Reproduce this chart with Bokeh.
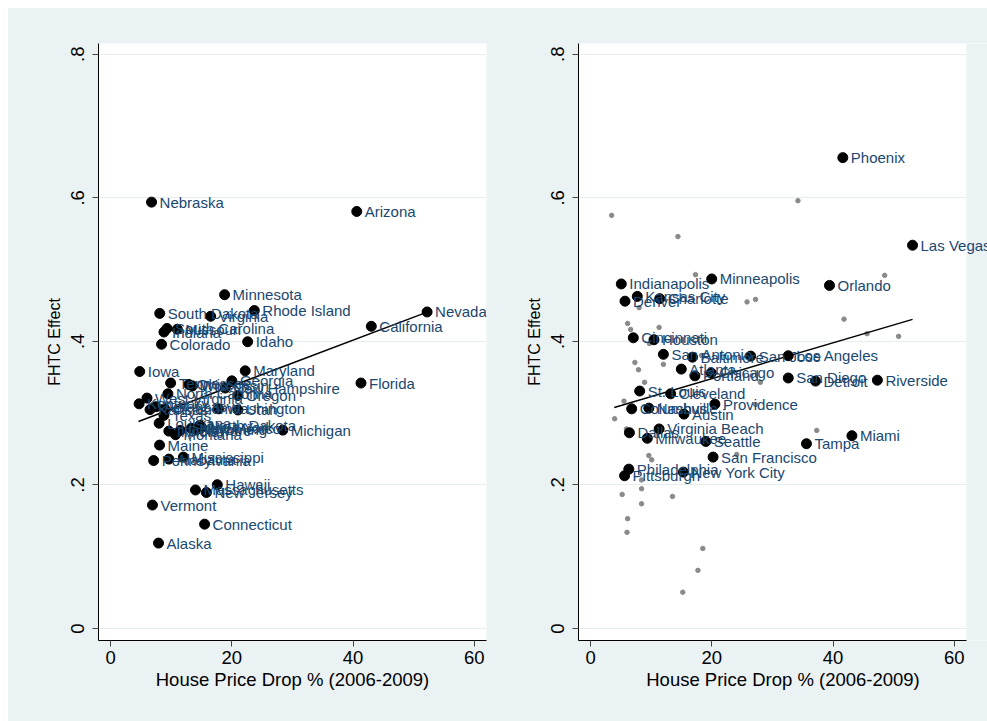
from bokeh.plotting import figure
from bokeh.models import Range1d, FixedTicker, ColumnDataSource, LabelSet, BoxAnnotation
from bokeh.layouts import row
from bokeh.core.properties import value
from bokeh.embed import file_html
from bokeh.resources import INLINE

# ---------------- data ----------------
y_ticks = [0, 0.2, 0.4, 0.6, 0.8]
y_tick_labels = ["0", ".2", ".4", ".6", ".8"]
x_ticks = [0, 20, 40, 60]
x_tick_labels = ["0", "20", "40", "60"]

x_title = "House Price Drop % (2006-2009)"
y_title = "FHTC Effect"

state_names = [
    "Nebraska", "Arizona", "Minnesota", "South Dakota", "Rhode Island", "Virginia",
    "Nevada", "California", "Florida", "South Carolina", "Missouri", "Indiana",
    "Colorado", "Idaho", "Iowa", "Maryland", "Tennessee", "Georgia", "Ohio",
    "New Hampshire", "Oregon", "North Carolina", "West Virginia", "Kentucky",
    "Kansas", "Texas", "Washington", "Utah", "Louisiana", "Illinois", "Montana",
    "North Dakota", "Wyoming", "Michigan", "Maine", "Pennsylvania", "Alabama",
    "Mississippi", "Hawaii", "Massachusetts", "New Jersey", "Vermont",
    "Connecticut", "Alaska", "Arkansas", "Delaware", "New Mexico", "New York",
    "Oklahoma", "Wisconsin",
]
state_drop = [
    6.75, 40.6, 18.8, 8.1, 23.7, 16.5,
    52.2, 43.0, 41.3, 9.3, 11.0, 8.8,
    8.4, 22.6, 4.8, 22.2, 9.9, 20.0, 12.9,
    18.9, 21.0, 9.45, 6.0, 4.7,
    6.5, 8.8, 17.8, 21.0, 8.0, 9.6, 10.7,
    14.7, 14.2, 28.4, 8.07, 7.1, 9.6,
    12.0, 17.6, 14.0, 15.8, 6.9,
    15.5, 7.9, 7.5, 11.5, 13.3, 15.0,
    8.9, 13.5,
]
state_effect = [
    0.594, 0.581, 0.465, 0.439, 0.443, 0.435,
    0.441, 0.421, 0.342, 0.418, 0.417, 0.413,
    0.396, 0.3995, 0.358, 0.359, 0.342, 0.345, 0.340,
    0.335, 0.3247, 0.327, 0.321, 0.313,
    0.305, 0.297, 0.306, 0.3045, 0.286, 0.275, 0.270,
    0.283, 0.277, 0.2764, 0.2555, 0.234, 0.236,
    0.2388, 0.2003, 0.193, 0.1895, 0.172,
    0.1454, 0.119, 0.309, 0.276, 0.279, 0.280,
    0.306, 0.338,
]
state_fit_x = [4.6, 52.2]
state_fit_y = [0.2885, 0.4408]

city_names = [
    "Phoenix", "Las Vegas", "Indianapolis", "Minneapolis", "Orlando", "Kansas City",
    "Denver", "Charlotte", "Cincinnati", "Houston", "San Antonio", "Baltimore",
    "San Jose", "Los Angeles", "Atlanta", "Portland", "Chicago", "San Diego",
    "Detroit", "Riverside", "St. Louis", "Cleveland", "Providence", "Columbus",
    "Nashville", "Austin", "Virginia Beach", "Dallas", "Milwaukee", "Seattle",
    "San Francisco", "Philadelphia", "Pittsburgh", "New York City", "Tampa", "Miami",
]
city_drop = [
    41.6, 53.1, 5.06, 19.97, 39.4, 7.7,
    5.67, 11.4, 7.04, 10.45, 12.0, 16.8,
    26.4, 32.6, 14.96, 17.2, 19.9, 32.6,
    37.1, 47.3, 8.09, 13.2, 20.5, 6.77,
    9.6, 15.4, 11.3, 6.4, 9.35, 19.0,
    20.2, 6.3, 5.6, 15.3, 35.6, 43.1,
]
city_effect = [
    0.656, 0.534, 0.480, 0.487, 0.478, 0.4627,
    0.456, 0.4595, 0.405, 0.4023, 0.382, 0.378,
    0.3795, 0.380, 0.3614, 0.352, 0.356, 0.349,
    0.3447, 0.346, 0.3308, 0.327, 0.3126, 0.306,
    0.307, 0.2987, 0.278, 0.2727, 0.265, 0.2606,
    0.2388, 0.222, 0.2128, 0.2179, 0.2574, 0.2686,
]
other_drop = [
    3.47, 14.4, 34.2, 48.5, 17.3, 25.8, 27.2, 8.0, 41.8, 6.1,
    6.6, 11.3, 9.7, 7.3, 7.9, 12.0, 8.9, 18.3, 5.5, 28.0,
    3.96, 5.9, 9.6, 10.07, 8.4, 8.4, 5.2, 13.5, 8.4, 24.1,
    27.2, 37.3, 45.6, 50.8, 6.1, 6.0, 18.5, 17.7, 15.2,
]
other_effect = [
    0.5756, 0.546, 0.596, 0.492, 0.493, 0.455, 0.4585, 0.447, 0.431, 0.425,
    0.4167, 0.4195, 0.397, 0.3707, 0.3605, 0.368, 0.343, 0.3805, 0.3168, 0.343,
    0.2922, 0.278, 0.241, 0.235, 0.207, 0.1947, 0.1868, 0.184, 0.1738, 0.2425,
    0.312, 0.276, 0.4107, 0.407, 0.153, 0.134, 0.1115, 0.081, 0.0506,
]
city_fit_x = [3.9, 53.1]
city_fit_y = [0.308, 0.4307]

# ---------------- style ----------------
BG = "#EAF2F3"
GRID = "#E4EDEF"
NAVY = "#1A476F"
FONT = "Liberation Sans"
H = 713
X_LO, X_HI = -2, 62
Y_LO, Y_HI = -0.0167, 0.815
PX_PER_X = 388 / (X_HI - X_LO)


def panel(width, bl, br, x_end):
    p = figure(width=width, height=H, x_range=Range1d(X_LO, x_end),
               y_range=Range1d(Y_LO, Y_HI), output_backend="svg",
               toolbar_location=None, background_fill_color="white",
               border_fill_color=BG, outline_line_color=None,
               min_border_left=bl, min_border_right=br,
               min_border_top=35, min_border_bottom=81)
    p.xgrid.visible = False
    p.ygrid.ticker = FixedTicker(ticks=y_ticks)
    p.ygrid.grid_line_color = GRID
    p.ygrid.grid_line_width = 1

    p.xaxis.ticker = FixedTicker(ticks=x_ticks)
    p.xaxis.major_label_overrides = dict(zip(x_ticks, x_tick_labels))
    p.xaxis.bounds = (X_LO, X_HI)
    p.yaxis.ticker = FixedTicker(ticks=y_ticks)
    p.yaxis.major_label_overrides = dict(zip(y_ticks, y_tick_labels))
    p.yaxis.major_label_orientation = "vertical"

    for ax in (p.xaxis, p.yaxis):
        ax.axis_line_color = "black"
        ax.axis_line_width = 1
        ax.major_tick_line_color = "#444444"
        ax.major_tick_out = 6
        ax.major_tick_in = 0
        ax.minor_tick_line_color = None
        ax.major_label_text_font = FONT
        ax.major_label_text_font_size = "18.5px"
        ax.major_label_text_color = "black"
        ax.axis_label_text_font = FONT
        ax.axis_label_text_font_style = "normal"
        ax.axis_label_text_color = "black"
    p.xaxis.axis_label = x_title
    p.yaxis.axis_label = y_title
    p.xaxis.axis_label_text_font_size = "18.5px"
    p.yaxis.axis_label_text_font_size = "16px"
    p.xaxis.major_label_standoff = 4
    p.xaxis.axis_label_standoff = 2
    p.yaxis.major_label_standoff = 8
    p.yaxis.axis_label_standoff = 6
    if x_end > X_HI:
        # area right of the plot region belongs to the graph background
        p.add_layout(BoxAnnotation(left=X_HI, fill_color=BG, fill_alpha=1,
                                   line_color=None, level="glyph"))
    return p


def labelled(p, names, xs, ys):
    src = ColumnDataSource(dict(x=xs, y=ys, name=names))
    p.scatter("x", "y", source=src, size=10, color="black")
    p.add_layout(LabelSet(x="x", y="y", text="name", source=src, x_offset=8,
                          text_baseline="middle", text_font=value(FONT),
                          text_font_size="15px", text_color=NAVY))


# left panel: states
p1 = panel(489, 90, 11, X_HI)
p1.line(state_fit_x, state_fit_y, line_color="black", line_width=1.5)
labelled(p1, state_names, state_drop, state_effect)

# right panel: metros (plot frame extended to the edge so that labels can overhang)
p2 = panel(490, 81, 0, X_LO + 409 / PX_PER_X)
p2.scatter(other_drop, other_effect, size=4.5, color="#8A8A8A")
p2.line(city_fit_x, city_fit_y, line_color="black", line_width=1.5)
labelled(p2, city_names, city_drop, city_effect)

layout = row(p1, p2, spacing=0, margin=(8, 0, 0, 8),
             styles={"background-color": BG})
open("out.html", "w").write(file_html(layout, INLINE))
